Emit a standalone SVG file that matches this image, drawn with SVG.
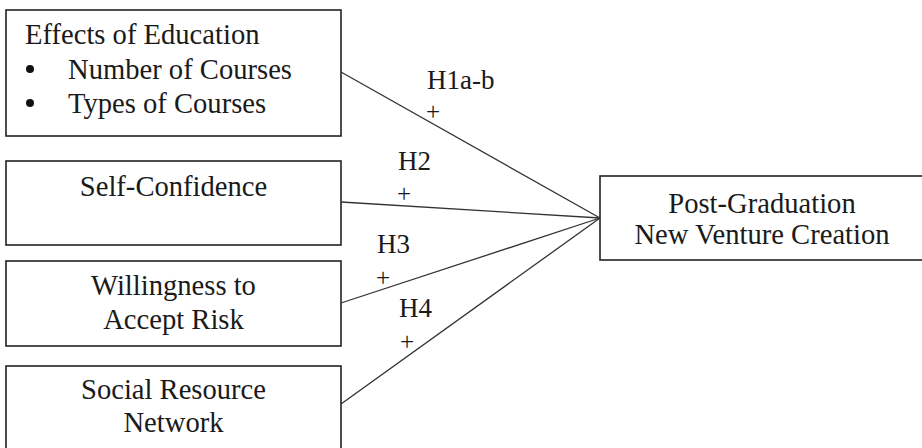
<svg xmlns="http://www.w3.org/2000/svg" width="922" height="448" viewBox="0 0 922 448">
<style>
.box{fill:#fff;stroke:#222;stroke-width:1.6}
.t{font-family:"Liberation Serif","Times New Roman",serif;font-size:28.6px;fill:#1a1a1a}
.h{font-family:"Liberation Serif","Times New Roman",serif;font-size:27px;fill:#1a1a1a}
.p{font-family:"Liberation Serif","Times New Roman",serif;font-size:25px;fill:#1a1a1a;text-anchor:middle}
.c{text-anchor:middle}
.ln{stroke:#333;stroke-width:1.3;fill:none}
</style>
<rect width="922" height="448" fill="#fff"/>
<g id="education">
<rect class="box" x="6" y="10" width="335" height="126"/>
<text class="t" x="25" y="44">Effects of Education</text>
<circle cx="30" cy="69" r="4" fill="#111"/>
<text class="t" x="68" y="79">Number of Courses</text>
<circle cx="30" cy="103" r="4" fill="#111"/>
<text class="t" x="68" y="113">Types of Courses</text>
</g>
<g id="selfconfidence">
<rect class="box" x="6" y="161" width="335" height="84"/>
<text class="t c" x="173.5" y="196">Self-Confidence</text>
</g>
<g id="risk">
<rect class="box" x="6" y="261" width="335" height="85"/>
<text class="t c" x="173.5" y="295">Willingness to</text>
<text class="t c" x="173.5" y="329">Accept Risk</text>
</g>
<g id="social">
<rect class="box" x="6" y="366" width="335" height="95"/>
<text class="t c" x="173.5" y="399">Social Resource</text>
<text class="t c" x="173.5" y="432">Network</text>
</g>
<g id="outcome">
<rect class="box" x="600" y="176" width="330" height="84"/>
<text class="t c" x="762" y="213">Post-Graduation</text>
<text class="t c" x="762" y="244">New Venture Creation</text>
</g>
<g id="connectors">
<line class="ln" x1="341" y1="72" x2="600" y2="218"/>
<line class="ln" x1="341" y1="202" x2="600" y2="218"/>
<line class="ln" x1="341" y1="303" x2="600" y2="218"/>
<line class="ln" x1="341" y1="404" x2="600" y2="218"/>
<text class="h" x="427" y="89">H1a-b</text>
<text class="p" x="433" y="120">+</text>
<text class="h" x="398" y="170">H2</text>
<text class="p" x="404" y="202">+</text>
<text class="h" x="377" y="253">H3</text>
<text class="p" x="383" y="286">+</text>
<text class="h" x="399" y="317">H4</text>
<text class="p" x="407" y="350">+</text>
</g>
</svg>
